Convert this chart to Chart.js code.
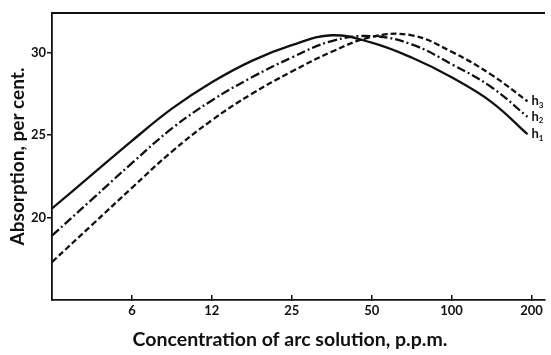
<!DOCTYPE html>
<html>
<head>
<meta charset="utf-8">
<script src="https://cdn.jsdelivr.net/npm/chart.js@4"></script>
<style>
  html, body { margin: 0; padding: 0; background: #fff; }
  #wrap { width: 551px; height: 355px; }
</style>
</head>
<body>
<div id="wrap"><canvas id="chart" width="551" height="355"></canvas></div>
<script>
// x positions are tick slots: 0 = 6 p.p.m., 1 = 12, 2 = 25, 3 = 50, 4 = 100, 5 = 200
const tickLabels = ["6", "12", "25", "50", "100", "200"];
const xPos = [-1, -0.5, 0, 0.5, 1, 1.5, 2, 2.5, 3, 3.5, 4, 4.5, 4.95];
const h1 = [20.55, 22.6, 24.65, 26.6, 28.2, 29.5, 30.45, 31.05, 30.6, 29.7, 28.5, 27.0, 25.05];
const h2 = [18.9, 21.1, 23.3, 25.4, 27.1, 28.5, 29.7, 30.7, 31.0, 30.5, 29.3, 27.9, 26.1];
const h3 = [17.3, 19.55, 21.8, 24.0, 25.9, 27.5, 28.85, 30.05, 30.95, 31.05, 30.05, 28.65, 27.05];
const seriesNames = ["1", "2", "3"];
const yTicks = [20, 25, 30];

const FONT = "Lato";
const INK = "#111";

const pts = arr => arr.map((v, i) => ({ x: xPos[i], y: v }));

const endLabels = {
  id: "endLabels",
  afterDatasetsDraw(chart) {
    const ctx = chart.ctx;
    ctx.save();
    ctx.fillStyle = INK;
    chart.data.datasets.forEach((ds, i) => {
      const meta = chart.getDatasetMeta(i);
      const last = meta.data[meta.data.length - 1];
      ctx.font = `bold 13px ${FONT}`;
      ctx.textBaseline = "middle";
      ctx.textAlign = "left";
      ctx.fillText("h", last.x + 4, last.y);
      const w = ctx.measureText("h").width;
      ctx.font = `bold 8px ${FONT}`;
      ctx.fillText(seriesNames[i], last.x + 4 + w, last.y + 4);
    });
    // x axis title
    const area = chart.chartArea;
    ctx.font = `bold 19.5px ${FONT}`;
    ctx.textAlign = "center";
    ctx.textBaseline = "middle";
    ctx.fillText("Concentration of arc solution, p.p.m.", area.left + 238, 340);
    ctx.restore();
  }
};

const common = { fill: false, pointRadius: 0, borderColor: INK, borderWidth: 2.3, tension: 0.4 };

new Chart(document.getElementById("chart"), {
  type: "line",
  data: {
    datasets: [
      { ...common, label: "h1", data: pts(h1) },
      { ...common, label: "h2", data: pts(h2), borderDash: [9, 3, 2, 3] },
      { ...common, label: "h3", data: pts(h3), borderDash: [6, 3] }
    ]
  },
  options: {
    responsive: false,
    animation: false,
    layout: { padding: { top: 13, right: 0, bottom: 0, left: 0 } },
    plugins: { legend: { display: false }, tooltip: { enabled: false } },
    scales: {
      x: {
        type: "linear",
        min: -1,
        max: 5.16,
        afterBuildTicks: s => { s.ticks = tickLabels.map((_, i) => ({ value: i })); },
        afterFit: s => { s.height = 55; },
        ticks: { color: INK, font: { family: FONT, size: 13, weight: "bold" }, padding: 8, callback: (v, i) => tickLabels[i] },
        grid: { drawOnChartArea: false, drawTicks: true, tickLength: -5, color: INK, lineWidth: 1.5 },
        border: { display: true, color: INK, width: 1.8 }
      },
      xTop: {
        type: "linear",
        position: "top",
        min: -1,
        max: 5.16,
        afterFit: s => { s.height = 0; },
        ticks: { display: false },
        grid: { display: false, drawTicks: false },
        border: { display: true, color: INK, width: 2 }
      },
      y: {
        min: 15,
        max: 32.4,
        afterBuildTicks: s => { s.ticks = yTicks.map(v => ({ value: v })); },
        afterFit: s => { s.width = 52; },
        ticks: { color: INK, font: { family: FONT, size: 13, weight: "bold" }, padding: 1 },
        grid: { drawOnChartArea: false, drawTicks: true, tickLength: 5, color: INK, lineWidth: 1.5 },
        border: { display: true, color: INK, width: 1.8 },
        title: { display: true, text: "Absorption, per cent.", color: INK, font: { family: FONT, size: 19, weight: "bold" }, padding: { top: 6, bottom: 0 } }
      }
    }
  },
  plugins: [endLabels]
});
</script>
</body>
</html>
